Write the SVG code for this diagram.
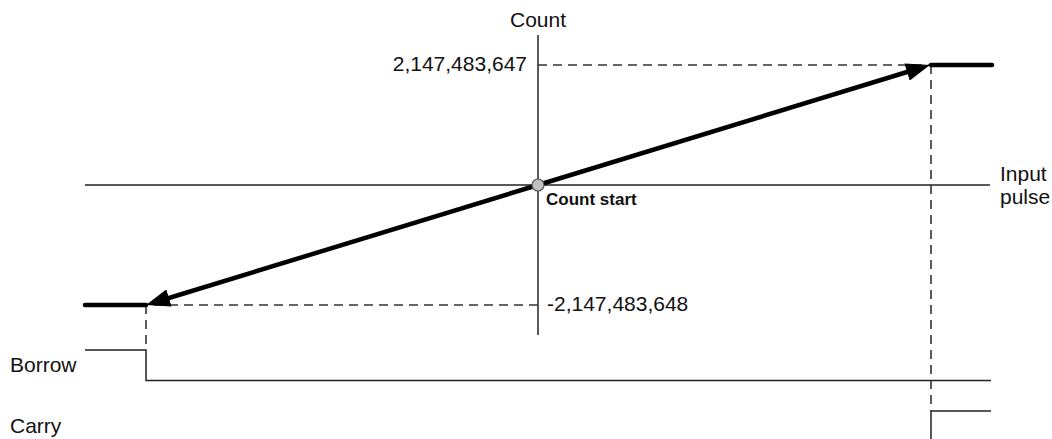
<svg xmlns="http://www.w3.org/2000/svg" width="1052" height="439" viewBox="0 0 1052 439">
  <defs>
    <style>
      .t { font-family: "Liberation Sans", Arial, sans-serif; font-size: 21px; fill: #111; }
      .b { font-family: "Liberation Sans", Arial, sans-serif; font-size: 17px; font-weight: bold; fill: #111; }
      .thin { stroke: #222; stroke-width: 1.5; fill: none; }
      .dash { stroke: #333; stroke-width: 1.6; fill: none; stroke-dasharray: 9 6; }
      .thick { stroke: #000; stroke-width: 4.5; fill: none; stroke-linecap: round; }
    </style>
    <marker id="ah" markerUnits="userSpaceOnUse" markerWidth="24" markerHeight="18" refX="12" refY="9" orient="auto">
      <path d="M0,0 L24,9 L0,18 z" fill="#000"/>
    </marker>
  </defs>
  <rect width="1052" height="439" fill="#fff"/>
  <g id="axes">
    <line class="thin" x1="538" y1="35" x2="538" y2="335"/>
    <line class="thin" x1="85" y1="185" x2="990" y2="185"/>
  </g>
  <g id="connectors">
    <line class="dash" x1="538" y1="65" x2="930" y2="65"/>
    <line class="dash" x1="931" y1="65" x2="931" y2="411"/>
    <line class="dash" x1="538" y1="305" x2="146" y2="305"/>
    <line class="dash" x1="146" y1="305" x2="146" y2="350"/>
    <line class="thick" x1="931" y1="65" x2="992" y2="65"/>
    <line class="thick" x1="85" y1="305" x2="146" y2="305"/>
    <line class="thick" style="stroke-linecap:butt" x1="538" y1="185" x2="918.5" y2="68.5" marker-end="url(#ah)"/>
    <line class="thick" style="stroke-linecap:butt" x1="538" y1="185" x2="157.5" y2="301.5" marker-end="url(#ah)"/>
    <polyline class="thin" points="85,350 146,350 146,380.5 991,380.5"/>
    <polyline class="thin" points="931,439 931,411 991,411"/>
  </g>
  <g id="origin">
    <circle cx="538" cy="185" r="6" fill="#c0c0c0" stroke="#555" stroke-width="1.2"/>
    <text class="b" x="546" y="205">Count start</text>
  </g>
  <g id="labels">
    <text class="t" x="538" y="27" text-anchor="middle">Count</text>
    <text class="t" x="527" y="71" text-anchor="end">2,147,483,647</text>
    <text class="t" x="547" y="311">-2,147,483,648</text>
    <text class="t" x="1000" y="181">Input</text>
    <text class="t" x="1000" y="204">pulse</text>
    <text class="t" x="10" y="372">Borrow</text>
    <text class="t" x="10" y="433">Carry</text>
  </g>
</svg>
